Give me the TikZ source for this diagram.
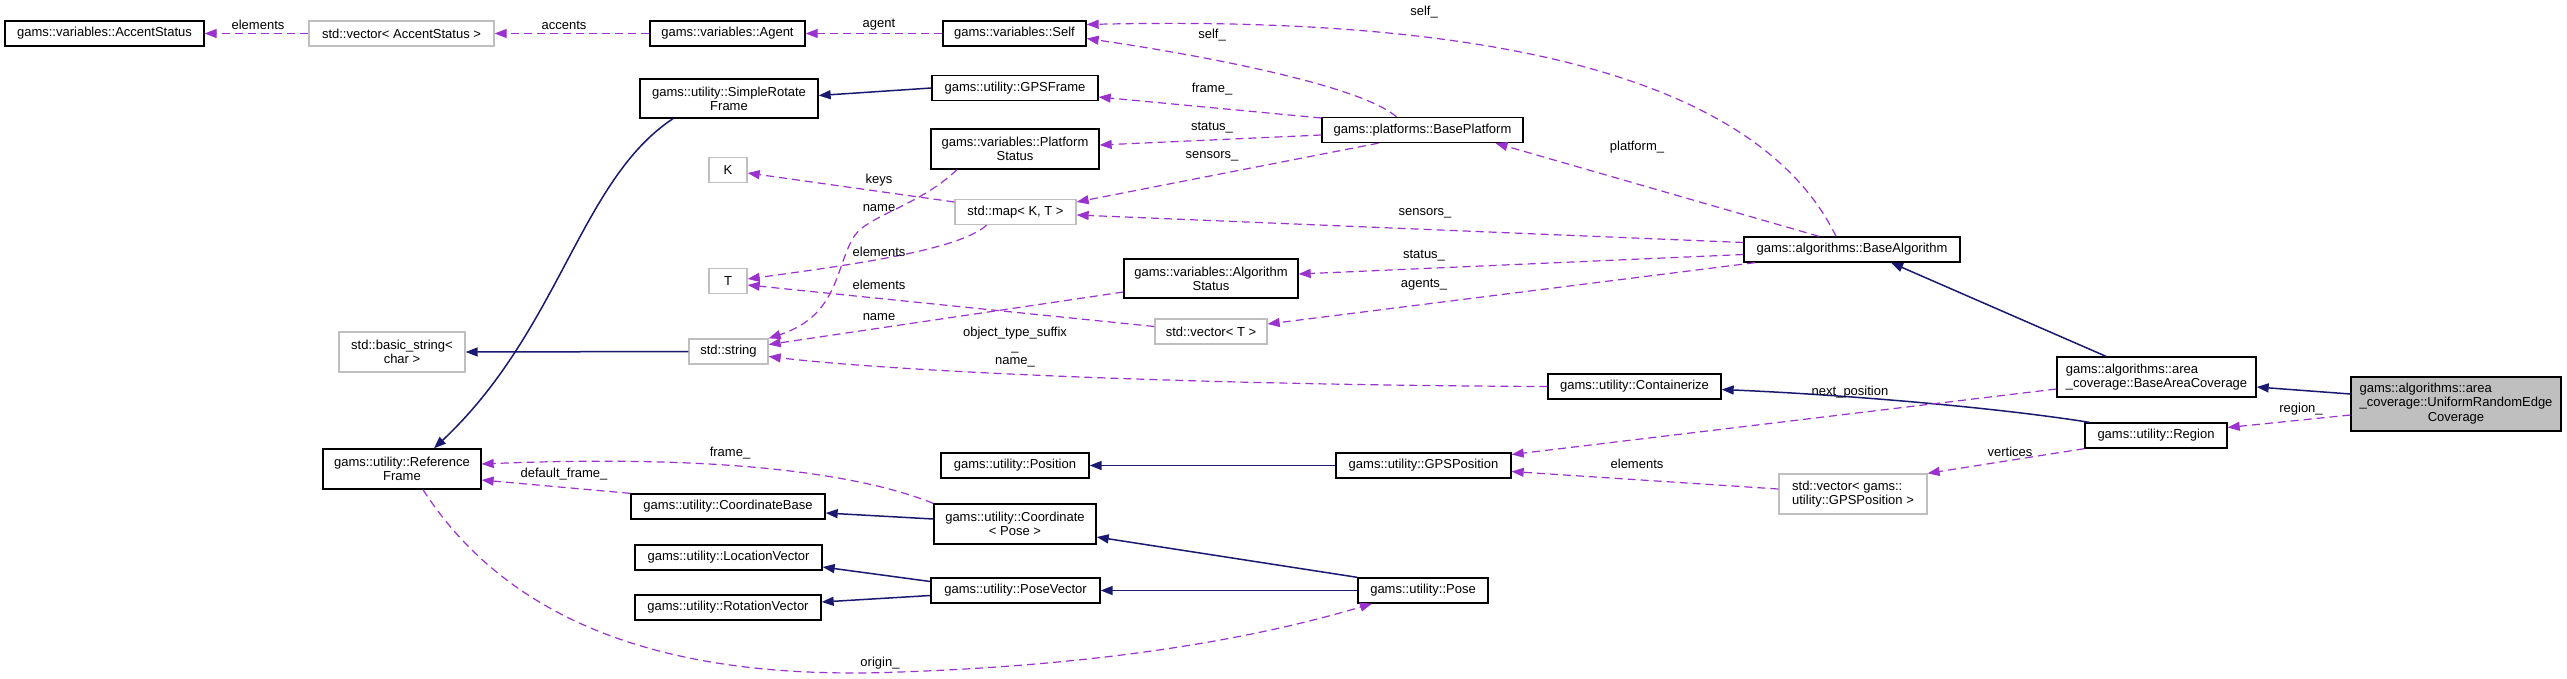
\documentclass[tikz,border=0pt]{standalone}
\usepackage{fontspec}
\setmainfont{Liberation Sans}
\usetikzlibrary{arrows.meta}
\definecolor{depc}{HTML}{9A32CD}
\definecolor{inhc}{HTML}{191970}
\definecolor{extc}{HTML}{BFBFBF}
\tikzset{
 cls/.style={draw=black, line width=1.3pt, inner sep=0pt, fill=white, font=\fontsize{13}{14}\selectfont, minimum height=25pt},
 extcls/.style={cls, draw=extc},
 dep/.style={draw=depc, line width=1.2pt, dash pattern=on 8pt off 5pt, -{Triangle[length=12pt,width=9pt]}},
 inh/.style={draw=inhc, line width=1.5pt, -{Triangle[length=12pt,width=9pt]}},
 lbl/.style={font=\fontsize{13}{14}\selectfont, inner sep=0pt},
}
\begin{document}
\begin{tikzpicture}[x=1pt,y=-1pt]
\useasboundingbox[fill=white] (0,0) rectangle (2567,678);
% nodes
\node[cls, minimum width=199pt] (accent) at (104.5,33.5) {gams::variables::AccentStatus};
\node[extcls, minimum width=185pt] (vecaccent) at (401.5,33.5) {std::vector< AccentStatus >};
\node[cls, minimum width=155pt] (agent) at (727.5,33.5) {gams::variables::Agent};
\node[cls, minimum width=143pt] (self) at (1014.5,33.5) {gams::variables::Self};
\node[cls, minimum width=178pt, minimum height=39pt, align=center] (srf) at (729,98.5) {gams::utility::SimpleRotate\\Frame};
\node[cls, minimum width=166pt] (gpsframe) at (1015,88) {gams::utility::GPSFrame};
\node[cls, minimum width=168pt, minimum height=40pt, align=center] (platstatus) at (1015,149) {gams::variables::Platform\\Status};
\node[cls, minimum width=201pt] (baseplat) at (1422.5,130) {gams::platforms::BasePlatform};
\node[extcls, minimum width=38pt] (K) at (728,170) {K};
\node[extcls, minimum width=121pt] (map) at (1015.5,212) {std::map< K, T >};
\node[extcls, minimum width=38pt] (T) at (728,281) {T};
\node[cls, minimum width=216pt] (basealg) at (1852,249.5) {gams::algorithms::BaseAlgorithm};
\node[cls, minimum width=174pt, minimum height=39pt, align=center] (algstatus) at (1211,278.5) {gams::variables::Algorithm\\Status};
\node[extcls, minimum width=112pt] (vecT) at (1211,331.5) {std::vector< T >};
\node[extcls, minimum width=79pt] (string) at (728.5,351.5) {std::string};
\node[extcls, minimum width=126pt, minimum height=40pt, align=center] (basicstring) at (402,352) {std::basic\_string<\\char >};
\node[cls, minimum width=173pt] (containerize) at (1634.5,386.5) {gams::utility::Containerize};
\node[cls, minimum width=199pt, minimum height=40pt, align=left] (bac) at (2156.5,377) {gams::algorithms::area\\\_coverage::BaseAreaCoverage};
\node[cls, fill=extc, minimum width=210pt, minimum height=54pt] (ure) at (2456,404) {\renewcommand\arraystretch{1.04}\begin{tabular}{@{}l@{}}gams::algorithms::area\\\_coverage::UniformRandomEdge\\\multicolumn{1}{@{}c@{}}{Coverage}\end{tabular}};
\node[cls, minimum width=142pt] (region) at (2156,435.5) {gams::utility::Region};
\node[cls, minimum width=158pt, minimum height=40pt, align=center] (refframe) at (402,469) {gams::utility::Reference\\Frame};
\node[cls, minimum width=194pt] (coordbase) at (728,506.5) {gams::utility::CoordinateBase};
\node[cls, minimum width=187pt] (locvec) at (728.5,557.5) {gams::utility::LocationVector};
\node[cls, minimum width=186pt] (rotvec) at (728,607.5) {gams::utility::RotationVector};
\node[cls, minimum width=148pt] (position) at (1015,465.5) {gams::utility::Position};
\node[cls, minimum width=175pt] (gpspos) at (1423.5,465.5) {gams::utility::GPSPosition};
\node[extcls, minimum width=148pt, minimum height=40pt, align=left] (vecgps) at (1853,494) {std::vector< gams::\\utility::GPSPosition >};
\node[cls, minimum width=162pt, minimum height=40pt, align=center] (coord) at (1015,524) {gams::utility::Coordinate\\< Pose >};
\node[cls, minimum width=169pt] (posevec) at (1015.5,590.5) {gams::utility::PoseVector};
\node[cls, minimum width=130pt] (pose) at (1423,590.5) {gams::utility::Pose};
% edges
\draw[dep] (vecaccent.west) -- (accent.east);
\draw[dep] (agent.west) -- (vecaccent.east);
\draw[dep] (self.west) -- (agent.east);
\draw[dep] ([xshift=-16pt]basealg.north) .. controls (1760,80) and (1500,15) .. ([yshift=9pt]self.east);
\draw[dep] ([xshift=-26pt]baseplat.north) .. controls (1360,85) and (1200,55) .. ([yshift=-5pt]self.east);
\draw[inh] (gpsframe.west) -- ([yshift=3pt]srf.east);
\draw[dep] ([yshift=12pt]baseplat.west) -- ([yshift=-9pt]gpsframe.east);
\draw[dep] ([yshift=-5pt]baseplat.west) -- ([yshift=4pt]platstatus.east);
\draw[dep] ([xshift=-44pt]baseplat.south) -- ([yshift=10pt]map.east);
\draw[dep] ([xshift=-33pt]basealg.north) -- ([xshift=73pt]baseplat.south);
\draw[dep] ([yshift=7pt]basealg.west) -- ([yshift=-3pt]map.east);
\draw[dep] ([yshift=-5pt]basealg.west) -- ([yshift=4.5pt]algstatus.east);
\draw[dep] ([xshift=-97pt]basealg.south) -- ([yshift=7.5pt]vecT.east);
\draw[dep] ([yshift=10pt]map.west) -- ([yshift=-3pt]K.east);
\draw[dep] ([xshift=-29pt]map.south) .. controls (960,250) and (850,265) .. ([yshift=2pt]T.east);
\draw[dep] ([yshift=5pt]vecT.west) -- ([yshift=-4pt]T.east);
\draw[dep] ([xshift=-58pt]platstatus.south) .. controls (920,205) and (870,215) .. (855,235) .. controls (835,265) and (840,315) .. (string.north east);
\draw[dep] ([yshift=-13.5pt]algstatus.west) -- ([yshift=7pt]string.east);
\draw[dep] (containerize.west) .. controls (1200,385) and (900,372) .. ([yshift=-5pt]string.east);
\draw[inh] (string.west) -- (basicstring.east);
\draw[inh] ([xshift=-56pt]srf.south) .. controls (580,180) and (560,330) .. ([xshift=32pt]refframe.north);
\draw[inh] ([xshift=-50.5pt]bac.north) -- ([xshift=39pt]basealg.south);
\draw[inh] ([yshift=10pt]ure.west) -- ([yshift=-10pt]bac.east);
\draw[inh] ([xshift=5pt]region.north west) .. controls (2000,408) and (1850,395) .. ([yshift=-3pt]containerize.east);
\draw[dep] ([yshift=-11pt]ure.west) -- ([yshift=8pt]region.east);
\draw[dep] ([yshift=-12pt]bac.west) -- ([yshift=11pt]gpspos.east);
\draw[dep] (region.south west) -- (vecgps.north east);
\draw[dep] ([yshift=5pt]vecgps.west) -- ([yshift=-6pt]gpspos.east);
\draw[inh] (gpspos.west) -- (position.east);
\draw[inh] ([yshift=5pt]coord.west) -- ([yshift=-6.5pt]coordbase.east);
\draw[dep] (coord.north west) .. controls (850,470) and (700,455) .. ([yshift=5pt]refframe.east);
\draw[dep] (coordbase.north west) -- ([yshift=-11pt]refframe.east);
\draw[inh] ([yshift=9pt]posevec.west) -- ([yshift=-9.5pt]locvec.east);
\draw[inh] ([yshift=-5pt]posevec.west) -- ([yshift=5.5pt]rotvec.east);
\draw[inh] (pose.north west) -- ([yshift=-13pt]coord.east);
\draw[inh] (pose.west) -- (posevec.east);
\draw[dep] ([xshift=21pt]refframe.south) .. controls (520,640) and (700,680) .. (900,672) .. controls (1100,665) and (1250,640) .. ([xshift=-51pt]pose.south);
% labels
\node[lbl] (l1) at (258,25) {elements};
\node[lbl] (l2) at (564,25) {accents};
\node[lbl] (l3) at (879,25) {agent};
\node[lbl] (l4) at (1424,12) {self\_};
\node[lbl] (l5) at (1212,35) {self\_};
\node[lbl] (l6) at (1212,89) {frame\_};
\node[lbl] (l7) at (1212,128) {status\_};
\node[lbl] (l8) at (1212,156) {sensors\_};
\node[lbl] (l9) at (1637,147) {platform\_};
\node[lbl] (l10) at (1425,213) {sensors\_};
\node[lbl] (l11) at (1424,256) {status\_};
\node[lbl] (l12) at (1424,285) {agents\_};
\node[lbl] (l13) at (879,180) {keys};
\node[lbl] (l14) at (879,208) {name};
\node[lbl] (l15) at (879,252) {elements};
\node[lbl] (l16) at (879,285) {elements};
\node[lbl] (l17) at (879,317) {name};
\node[lbl, align=center] (l18) at (1015,347) {object\_type\_suffix\\\_\\name\_};
\node[lbl] (l19) at (1850,392) {next\_position};
\node[lbl] (l20) at (2301,409) {region\_};
\node[lbl] (l21) at (2010,452) {vertices};
\node[lbl] (l22) at (1637,464) {elements};
\node[lbl] (l23) at (730,453) {frame\_};
\node[lbl] (l24) at (564,474) {default\_frame\_};
\node[lbl] (l25) at (880,663) {origin\_};
\end{tikzpicture}
\end{document}
